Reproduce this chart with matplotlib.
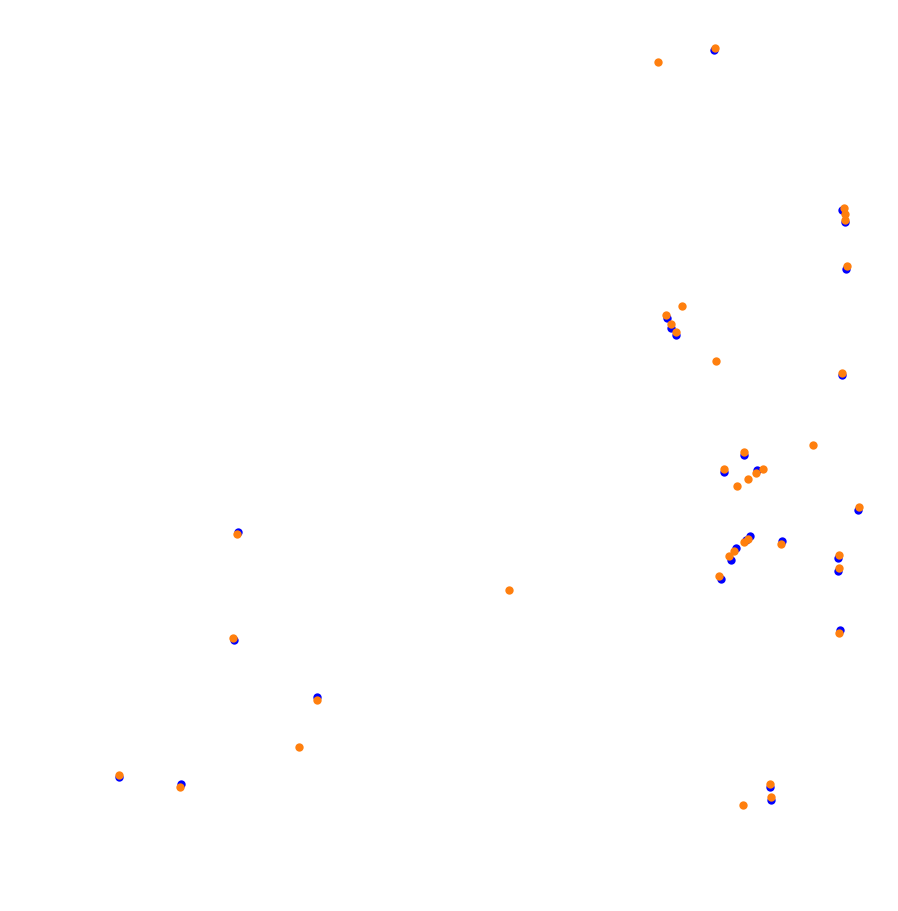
import matplotlib
matplotlib.use("Agg")
import matplotlib.pyplot as plt

# Series A (blue)
blue_x = [714, 842, 845, 846, 667, 671, 676, 842, 744, 724, 757, 858, 238,
          750, 746, 782, 736, 731, 838, 838, 721, 840, 234, 317, 119, 181,
          770, 771]
blue_y = [51, 211, 223, 270, 319, 329, 336, 376, 456, 473, 471, 511, 533,
          537, 541, 542, 549, 561, 559, 572, 580, 631, 641, 698, 778, 785,
          788, 801]

# Series B (orange)
orange_x = [715, 658, 844, 845, 845, 847, 666, 671, 676, 682, 716, 842, 813,
            744, 724, 756, 763, 748, 737, 859, 237, 748, 744, 781, 734, 729,
            839, 839, 719, 509, 839, 233, 317, 299, 119, 180, 770, 771, 743]
orange_y = [49, 63, 209, 215, 221, 267, 316, 325, 333, 307, 362, 374, 446,
            453, 470, 474, 470, 480, 487, 508, 535, 540, 543, 545, 552, 557,
            556, 569, 577, 591, 634, 639, 701, 748, 776, 788, 785, 798, 806]

fig = plt.figure(figsize=(8.98, 9.12), dpi=100)
ax = fig.add_axes([0, 0, 1, 1])
ax.scatter(blue_x, blue_y, s=36, color="#0000ff", linewidths=0, zorder=2)
ax.scatter(orange_x, orange_y, s=36, color="#ff7f0e", linewidths=0, zorder=3)
ax.set_xlim(0, 898)
ax.set_ylim(912, 0)
ax.axis("off")
fig.savefig("out.png", dpi=100, facecolor="white")
